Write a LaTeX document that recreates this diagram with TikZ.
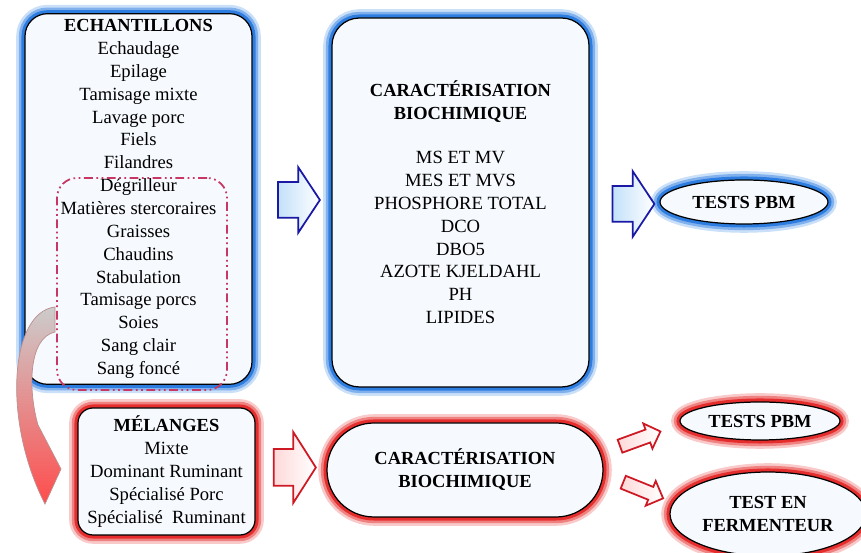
\documentclass[tikz,border=0pt]{standalone}
\usepackage{fontspec}
\setmainfont{Liberation Serif}
\definecolor{glowBlue}{RGB}{45,125,225}
\definecolor{glowRed}{RGB}{230,45,45}
\definecolor{arrowBlue}{RGB}{25,25,165}
\definecolor{arrowRed}{RGB}{205,25,35}
\definecolor{dashRed}{RGB}{200,55,100}
\definecolor{paleFill}{RGB}{246,249,253}
\definecolor{paleBlue}{RGB}{195,225,250}
\usetikzlibrary{shapes,arrows.meta}

\begin{document}
\begin{tikzpicture}[
        bluebox/.style={draw=black, line width=0.7pt, fill=paleFill, align=center,
                   font=\rmfamily\fontsize{10.6}{13}\selectfont,
                   preaction={draw=glowBlue!25, line width=10pt},
                   preaction={draw=glowBlue!60, line width=7pt},
                   preaction={draw=glowBlue, line width=4pt}},
        redbox/.style={draw=black, line width=0.7pt, fill=paleFill, align=center,
                   font=\rmfamily\fontsize{10.6}{13}\selectfont,
                   preaction={draw=glowRed!25, line width=10pt},
                   preaction={draw=glowRed!60, line width=7pt},
                   preaction={draw=glowRed, line width=4pt}},
        grpbox/.style={draw=dashRed, line width=1pt, rounded corners=0.4cm,
                   dash pattern=on 5pt off 2pt on 1pt off 2pt on 1pt off 2pt},
        blarr/.style={single arrow, draw=arrowBlue, line width=1pt,
                   left color=paleBlue, right color=white, inner xsep=0pt,
                   inner ysep=0.34cm, minimum height=0.84cm,
                   single arrow head extend=0.3cm, single arrow tip angle=113},
        rdarr/.style={single arrow, draw=arrowRed, line width=1pt,
                   left color=red!15, right color=white, inner xsep=0pt}
      ]
        \useasboundingbox (0,0) rectangle (17.22,11.06);
        % TOP ROW: samples and analyses
        \node[bluebox, rounded corners=0.45cm, minimum width=4.54cm, minimum height=7.36cm] (ech) at (2.77,7.08)
          {\textbf{\fontsize{10.5}{13}\selectfont ECHANTILLONS}\\ Echaudage\\ Epilage\\ Tamisage mixte\\ Lavage porc\\ Fiels\\ Filandres\\
           Dégrilleur\\ Matières stercoraires\\ Graisses\\ Chaudins\\ Stabulation\\ Tamisage porcs\\ Soies\\ Sang clair\\ Sang foncé};
        \node[grpbox, minimum width=3.4cm, minimum height=4.24cm] (grp) at (2.84,5.38) {};
        \node[bluebox, rounded corners=0.55cm, minimum width=5.14cm, minimum height=7.38cm] (carac) at (9.21,7.01)
          {\textbf{\fontsize{10.5}{12}\selectfont CARACTÉRISATION}\\ \textbf{\fontsize{10.5}{12}\selectfont BIOCHIMIQUE}\\[12pt]
           MS ET MV\\ MES ET MVS\\ PHOSPHORE TOTAL\\ DCO\\ DBO5\\ AZOTE KJELDAHL\\ PH\\ LIPIDES};
        \node[bluebox, ellipse, inner sep=0pt, minimum width=3.36cm, minimum height=0.88cm] (pbm1) at (14.88,7.02)
          {\textbf{\fontsize{10.5}{12}\selectfont TESTS PBM}};
        \node[blarr] (a1) at (5.86,7.06) {};
        \node[blarr] (a2) at (12.55,6.98) {};
        % BOTTOM ROW: mixtures
        \node[redbox, rounded corners=0.3cm, minimum width=3.54cm, minimum height=2.54cm] (mel) at (3.33,1.63)
          {\textbf{\fontsize{10.5}{12.6}\selectfont MÉLANGES}\\ Mixte\\ Dominant Ruminant\\ Spécialisé Porc\\ Spécialisé\ \ Ruminant};
        \node[redbox, rounded corners=0.94cm, minimum width=5.52cm, minimum height=1.88cm] (carac2) at (9.30,1.66)
          {\textbf{\fontsize{10.5}{12.5}\selectfont CARACTÉRISATION}\\ \textbf{\fontsize{10.5}{12.5}\selectfont BIOCHIMIQUE}};
        \node[redbox, ellipse, inner sep=0pt, minimum width=3.2cm, minimum height=0.76cm] (pbm2) at (15.2,2.64)
          {\textbf{\fontsize{10.5}{12}\selectfont TESTS PBM}};
        \node[redbox, ellipse, inner sep=0pt, minimum width=3.92cm, minimum height=1.68cm] (ferm) at (15.36,0.78)
          {\textbf{\fontsize{10.5}{12}\selectfont TEST EN}\\ \textbf{\fontsize{10.5}{12}\selectfont FERMENTEUR}};
        \node[rdarr, inner ysep=0.35cm, minimum height=0.84cm, single arrow head extend=0.34cm,
              single arrow tip angle=115] (a3) at (5.78,1.71) {};
        \node[rdarr, inner ysep=0.12cm, minimum height=0.86cm, single arrow head extend=0.13cm,
              rotate=20] (a4) at (12.74,2.26) {};
        \node[rdarr, inner ysep=0.12cm, minimum height=0.86cm, single arrow head extend=0.13cm,
              rotate=-22] (a5) at (12.8,1.28) {};
        % curved arrow from the group down to the mixtures
        \shade[top color=gray!40, bottom color=red!70, draw=red!25!gray!70, line width=0.4pt]
          (1.10,4.92) .. controls (0.20,4.82) and (0.04,2.66) .. (0.90,0.98)
          -- (1.22,1.68) -- (0.76,2.56)
          .. controls (0.56,3.26) and (0.56,4.30) .. (1.10,4.42) -- cycle;
      \end{tikzpicture}
\end{document}
